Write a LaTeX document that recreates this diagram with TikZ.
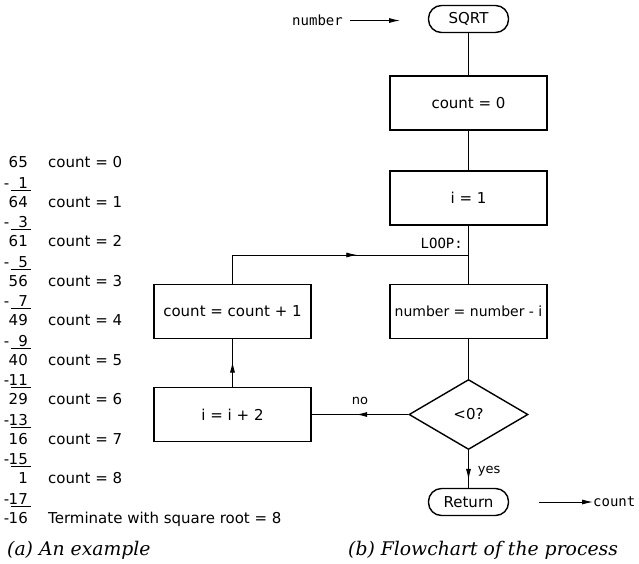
\documentclass[tikz,border=0pt]{standalone}
\usepackage{fontspec}
\setmainfont{DejaVu Sans}
\newfontfamily\codefont{DejaVu Sans Mono}
\newfontfamily\capfont{DejaVu Serif}
\usetikzlibrary{arrows.meta,shapes.geometric,decorations.markings}

\begin{document}
\begin{tikzpicture}[x=1pt,y=-1pt,
  every node/.style={font=\fontsize{15}{17}\selectfont, inner sep=0pt},
  proc/.style={draw, line width=1.4pt, minimum width=157pt, minimum height=54pt},
  term/.style={draw, line width=1.4pt, rounded corners=13pt, minimum width=80pt, minimum height=27pt},
  decision/.style={draw, diamond, line width=1.4pt, minimum width=119pt, minimum height=70pt, aspect=1.7},
  flow/.style={line width=0.9pt},
  tip/.style={-{Latex[length=11pt,width=5pt]}},
  midtip/.style={postaction={decorate}, decoration={markings,
      mark=at position #1 with {\arrow{Latex[length=11pt,width=5pt]}}}},
  midtip/.default=0.5,
  code/.style={font=\codefont\fontsize{14}{16}\selectfont},
  lbl/.style={font=\fontsize{13}{15}\selectfont},
  caption/.style={font=\capfont\itshape\fontsize{18.8}{22}\selectfont, anchor=base west},
  rule/.style={line width=0.9pt}
]
\useasboundingbox (0,0) rectangle (639,563);

% worked example: repeated subtraction of odd numbers
\foreach \v/\s [count=\k from 0] in {65/1,64/3,61/5,56/7,49/9,40/11,29/13,16/15,1/17}{
  \pgfmathsetmacro\yy{162+39.5*\k}
  \node[anchor=base east] (val\k) at (28,\yy+5.5) {\v};
  \node[anchor=base west] (cnt\k) at (48,\yy+5.5) {count = \k};
  \node[anchor=base east] (sub\k) at (28,\yy+26) {\s};
  \node[anchor=base] (minus\k) at (6.5,\yy+26) {-};
  \draw[rule] (11,\yy+28) -- (31,\yy+28);
}
\node[anchor=base east] (val9) at (28,523) {16};
\node[anchor=base] (minus9) at (6.5,523) {-};
\node[anchor=base west] (cnt9) at (48,523) {Terminate with square root = 8};

% flowchart
\node[term] (start) at (468.5,19) {SQRT};
\node[proc] (init) at (468.5,103) {count = 0};
\node[proc] (seti) at (468.5,198) {i = 1};
\node[proc, font=\fontsize{14}{16}\selectfont] (sub) at (468.5,311.5) {number = number - i};
\node[proc] (inc) at (232.5,311.5) {count = count + 1};
\node[decision] (test) at (468.5,414.5) {<0?};
\node[proc] (step) at (232.5,414.5) {i = i + 2};
\node[term] (ret) at (468.5,502) {Return};

\coordinate (loop) at (468.5,255);
\node[code, anchor=base east] (looplbl) at (463,248) {LOOP:};

\draw[flow] (start) -- (init);
\draw[flow] (init) -- (seti);
\draw[flow] (seti) -- (sub);
\draw[flow] (sub) -- (test);
\draw[flow, midtip=0.58] (inc.north) |- (loop);
\draw[flow, midtip=0.53] (step) -- (inc);
\draw[flow, midtip=0.54] (test) -- node[lbl, above=9pt] (nolbl) {no} (step);
\draw[flow, midtip=0.79] (test) -- node[lbl, right=9pt, pos=0.55] (yeslbl) {yes} (ret);

% input and output
\node[code, anchor=base east] (numlbl) at (343,25) {number};
\coordinate (numend) at (400,20.5);
\draw[flow, tip] (350,20.5) -- (numend);
\coordinate (outstart) at (539,502);
\node[code, anchor=west] (outlbl) at (593,502) {count};
\draw[flow, tip] (outstart) -- (outlbl);

% captions
\node[caption] (capa) at (7,555) {(a) An example};
\node[caption] (capb) at (348,555) {(b) Flowchart of the process};
\end{tikzpicture}
\end{document}
